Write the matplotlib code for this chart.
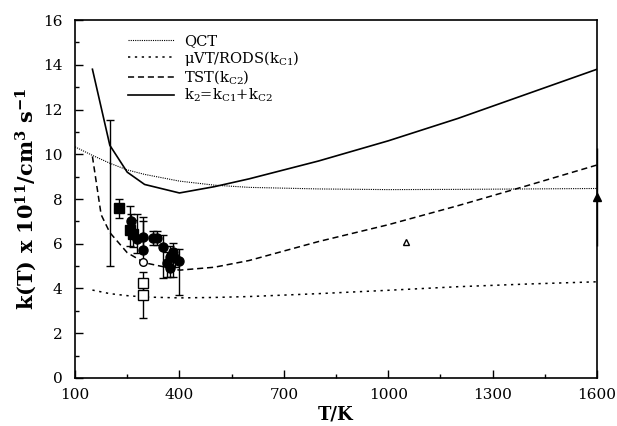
import numpy as np
import matplotlib
matplotlib.use('Agg')
import matplotlib.pyplot as plt

plt.rcParams['font.family'] = 'DejaVu Serif'
plt.rcParams['mathtext.fontset'] = 'dejavuserif'

# theory curves
T_qct = [100, 150, 200, 250, 300, 400, 500, 600, 800, 1000, 1200, 1400, 1600]
k_qct = [10.33, 9.95, 9.6, 9.3, 9.1, 8.8, 8.62, 8.52, 8.45, 8.42, 8.43, 8.45, 8.47]

T_th = [150, 175, 200, 250, 300, 400, 500, 600, 800, 1000, 1200, 1400, 1600]
k_c1 = [3.93, 3.85, 3.77, 3.68, 3.62, 3.58, 3.6, 3.64, 3.77, 3.92, 4.08, 4.2, 4.3]
k_c2 = [9.9, 7.3, 6.5, 5.6, 5.15, 4.82, 4.95, 5.25, 6.1, 6.85, 7.7, 8.6, 9.52]

T_k2 = [150, 200, 250, 300, 400, 500, 600, 800, 1000, 1200, 1400, 1600]
k_k2 = [13.8, 10.4, 9.2, 8.65, 8.27, 8.55, 8.9, 9.7, 10.6, 11.6, 12.7, 13.8]

# experiments
T_fsq = [226, 258, 267]
k_fsq = [7.6, 6.6, 6.45]
elo_fsq = [0.45, 0.7, 0.6]
ehi_fsq = [0.4, 1.1, 0.6]

T_fci = [261, 278, 295, 295, 324, 335, 353, 364, 373, 373, 382, 388, 400]
k_fci = [7.0, 6.2, 6.3, 5.72, 6.25, 6.25, 5.86, 5.13, 5.4, 4.9, 5.63, 5.35, 5.25]
elo_fci = [0.5, 0.6, 0.6, 0.5, 0.3, 0.3, 1.4, 0.6, 0.5, 0.4, 1.1, 0.4, 1.55]
ehi_fci = [0.35, 1.15, 0.9, 1.3, 0.3, 0.3, 0.55, 0.5, 0.5, 0.4, 0.4, 0.4, 0.5]

T_oci = [295]
k_oci = [5.2]

T_osq = [295, 295]
k_osq = [4.24, 3.72]
elo_osq = [0.5, 1.04]
ehi_osq = [0.5, 0.5]

T_bar = [200]
k_bar = [8.27]
e_bar = [3.28]

T_otr = [1050]
k_otr = [6.08]

T_ftr = [1600]
k_ftr = [8.1]
e_ftr = [2.2]

fig = plt.figure(figsize=(6.17, 4.26), dpi=100)
ax = fig.add_axes([0.1216, 0.1127, 0.8460, 0.8403])

ax.plot(T_qct, k_qct, color='k', lw=0.8, ls=(0, (1, 1)), label='QCT')
ax.plot(T_th, k_c1, color='k', lw=1.1, ls=(0, (1.5, 3)), label=r'$\mathrm{\mu}$VT/RODS(k$_{\mathrm{C1}}$)')
ax.plot(T_th, k_c2, color='k', lw=1.1, ls=(0, (4, 2.5)), label=r'TST(k$_{\mathrm{C2}}$)')
ax.plot(T_k2, k_k2, color='k', lw=1.2, ls='-', label=r'k$_2$=k$_{\mathrm{C1}}$+k$_{\mathrm{C2}}$')

ebkw = dict(ecolor='k', elinewidth=1.0, capthick=1.0, ls='none')
ax.errorbar(T_bar, k_bar, yerr=e_bar, fmt='none', capsize=3, **ebkw)
ax.errorbar(T_fsq, k_fsq, yerr=[elo_fsq, ehi_fsq], fmt='s', mfc='k', mec='k', ms=6.5, capsize=3, **ebkw)
ax.errorbar(T_fci, k_fci, yerr=[elo_fci, ehi_fci], fmt='o', mfc='k', mec='k', ms=6.5, capsize=3, **ebkw)
ax.errorbar(T_osq, k_osq, yerr=[elo_osq, ehi_osq], fmt='s', mfc='white', mec='k', ms=6.5, capsize=3, **ebkw)
ax.plot(T_oci, k_oci, 'o', mfc='white', mec='k', ms=5.5)
ax.plot(T_otr, k_otr, '^', mfc='white', mec='k', ms=5, mew=1.0)
ax.errorbar(T_ftr, k_ftr, yerr=e_ftr, fmt='^', mfc='k', mec='k', ms=6, capsize=0, clip_on=False, **ebkw)

ax.set_xlim(100, 1600)
ax.set_ylim(0, 16)
ax.set_xticks(np.arange(100, 1601, 300))
ax.set_xticks(np.arange(250, 1600, 300), minor=True)
ax.set_yticks(np.arange(0, 17, 2))
ax.set_yticks(np.arange(1, 16, 2), minor=True)
ax.tick_params(which='both', direction='in', top=False, right=False, labelsize=11)
ax.tick_params(axis='x', pad=7)
ax.tick_params(axis='y', pad=9)
ax.tick_params(which='major', length=6, width=1)
ax.tick_params(which='minor', length=3, width=1)
for s in ax.spines.values():
    s.set_linewidth(1.2)

ax.set_xlabel('T/K', fontsize=13, fontweight='bold', labelpad=3)
ax.set_ylabel(r'k(T) x 10$^{\mathbf{11}}$/cm$^{\mathbf{3}}$ s$^{\mathbf{-1}}$',
              fontsize=15, fontweight='bold', labelpad=3)

ax.legend(loc='upper left', bbox_to_anchor=(0.077, 0.998), frameon=False, fontsize=10.5,
          handlelength=3.1, handletextpad=0.7, labelspacing=0.05)

fig.savefig('out.png', dpi=100)
